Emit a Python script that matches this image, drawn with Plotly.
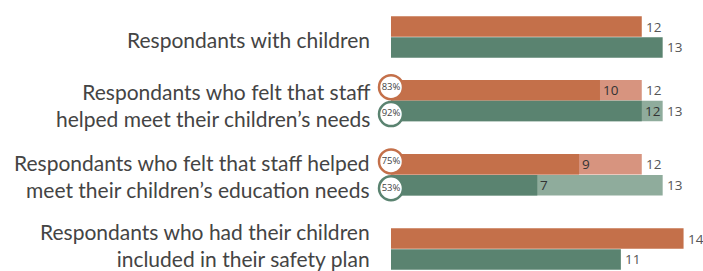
import plotly.graph_objects as go

categories = [
    "Respondants with children",
    "Respondants who felt that staff<br>helped meet their children’s needs",
    "Respondants who felt that staff helped<br>meet their children’s education needs",
    "Respondants who had their children<br>included in their safety plan",
]
orange_count = [12, 10, 9, 14]
orange_of = [None, 12, 12, None]
orange_pct = [None, "83%", "75%", None]
green_count = [13, 12, 7, 11]
green_of = [None, 13, 13, None]
green_pct = [None, "92%", "53%", None]

# layout (row centres on the y axis, in row units)
row_pos = [0, 0.9, 1.95, 3]
label_shift = [-2, -4, -1, 4]
bar_off = 0.148
bar_w = 0.29
circ_off = 0.19

ORANGE = "#C4704A"
GREEN = "#5A8370"
ORANGE_L = "#D7947F"
GREEN_L = "#8FAC9C"
FONT = "Lato"
NFONT = "Open Sans"

yo = [p - bar_off for p in row_pos]
yg = [p + bar_off for p in row_pos]

fig = go.Figure()
# light "out of" bars
fig.add_bar(x=orange_of, y=yo, orientation="h", width=bar_w, marker_color=ORANGE_L,
            marker_line_width=0, hoverinfo="skip")
fig.add_bar(x=green_of, y=yg, orientation="h", width=bar_w, marker_color=GREEN_L,
            marker_line_width=0, hoverinfo="skip")
# dark count bars
fig.add_bar(x=orange_count, y=yo, orientation="h", width=bar_w, marker_color=ORANGE,
            marker_line_width=0, hoverinfo="skip")
fig.add_bar(x=green_count, y=yg, orientation="h", width=bar_w, marker_color=GREEN,
            marker_line_width=0, hoverinfo="skip")

# number labels
for counts, ofs, ys in [(orange_count, orange_of, yo), (green_count, green_of, yg)]:
    for c, o, y in zip(counts, ofs, ys):
        inner = o is not None
        fig.add_annotation(x=c, y=y, xref="x", yref="y", text=str(c), showarrow=False,
                           xanchor="left", yanchor="middle", xshift=1 if inner else 2,
                           font=dict(size=13.5, color="#333" if inner else "#555", family=NFONT))
        if inner:
            fig.add_annotation(x=o, y=y, xref="x", yref="y", text=str(o), showarrow=False,
                               xanchor="left", yanchor="middle", xshift=2,
                               font=dict(size=13.5, color="#555", family=NFONT))

# percentage circles
for pct, col, sign in [(orange_pct, ORANGE, -1), (green_pct, GREEN, 1)]:
    xs, ys, ts = [], [], []
    for p, r in zip(pct, row_pos):
        if p is not None:
            xs.append(0)
            ys.append(r + sign * circ_off)
            ts.append(p)
    fig.add_scatter(x=xs, y=ys, mode="markers+text", text=ts, textposition="middle center",
                    marker=dict(size=24, color="white", line=dict(width=2.5, color=col)),
                    textfont=dict(size=9.5, color="#444", family=NFONT), cliponaxis=False,
                    hoverinfo="skip")

for c, r, s in zip(categories, row_pos, label_shift):
    fig.add_annotation(x=-0.9, y=r, xref="x", yref="y", text=c, showarrow=False,
                       xanchor="right", yanchor="middle", align="right", yshift=s,
                       font=dict(size=21, color="#444", family=FONT))

fig.update_layout(
    width=703, height=271, margin=dict(l=0, r=0, t=0, b=0),
    barmode="overlay", showlegend=False, plot_bgcolor="white", paper_bgcolor="white",
    xaxis=dict(range=[-18.71, 14.93], visible=False),
    yaxis=dict(range=[3.311, -0.5236], visible=False),
)
fig.write_html("out.html", config={"displayModeBar": False},
               post_script="document.body.style.margin='0';document.body.style.overflow='hidden';")
